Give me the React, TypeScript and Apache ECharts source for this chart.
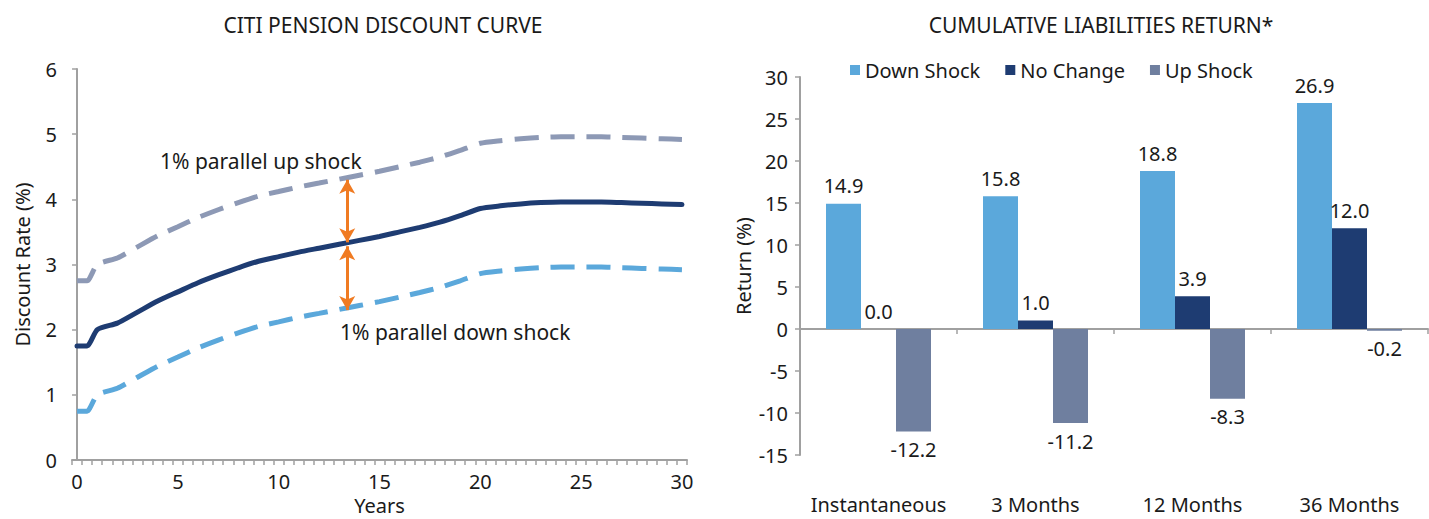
import React, { useEffect, useRef } from "react";
import * as echarts from "echarts";

// ---- Left chart data ----
const years = [0, 0.5, 1, 2, 3, 4, 5, 6, 7, 8, 9, 10, 11, 12, 13, 14, 15, 16, 17, 18, 19, 20, 21, 22, 23, 24, 25, 26, 27, 28, 29, 30];
const noChangeCurve = [1.75, 1.75, 2.0, 2.1, 2.27, 2.44, 2.58, 2.72, 2.84, 2.95, 3.05, 3.12, 3.19, 3.25, 3.31, 3.37, 3.43, 3.5, 3.57, 3.65, 3.75, 3.86, 3.9, 3.93, 3.95, 3.96, 3.96, 3.96, 3.95, 3.94, 3.93, 3.92];
const upShockCurve = [2.75, 2.75, 3.0, 3.1, 3.27, 3.44, 3.58, 3.72, 3.84, 3.95, 4.05, 4.12, 4.19, 4.25, 4.31, 4.37, 4.43, 4.5, 4.57, 4.65, 4.75, 4.86, 4.9, 4.93, 4.95, 4.96, 4.96, 4.96, 4.95, 4.94, 4.93, 4.92];
const downShockCurve = [0.75, 0.75, 1.0, 1.1, 1.27, 1.44, 1.58, 1.72, 1.84, 1.95, 2.05, 2.12, 2.19, 2.25, 2.31, 2.37, 2.43, 2.5, 2.57, 2.65, 2.75, 2.86, 2.9, 2.93, 2.95, 2.96, 2.96, 2.96, 2.95, 2.94, 2.93, 2.92];
const xTickLabels = ["0", "5", "10", "15", "20", "25", "30"];
const arrowYear = 13.4;
const arrowUp = [4.3, 3.34];
const arrowDown = [3.28, 2.3];

// ---- Right chart data ----
const periods = ["Instantaneous", "3 Months", "12 Months", "36 Months"];
const downShock = [14.9, 15.8, 18.8, 26.9];
const noChange = [0.0, 1.0, 3.9, 12.0];
const upShock = [-12.2, -11.2, -8.3, -0.2];

const FONT = "Noto Sans";
const FS = 20;
const TXT = "#1a1a1a";
const AXIS = "#a0a0a0";
const C_MAIN = "#1e3c72";
const C_UP = "#8d99b5";
const C_DOWN = "#5ba8db";
const C_UPBAR = "#6f7f9f";
const C_ARROW = "#f07b22";

export default function App() {
  const ref = useRef<HTMLDivElement>(null);
  useEffect(() => {
    const chart = echarts.init(ref.current!, null, { renderer: "svg" });
    const halfYearCats = Array.from({ length: 61 }, (_, i) => String(i / 2));
    const pairs = (ys: number[]) => years.map((x, i) => [x, ys[i]]);
    const barData = (vals: number[]) =>
      vals.map((v) => ({ value: v, label: { position: v < 0 ? "bottom" : "top" } }));
    const barLabel = {
      show: true,
      fontFamily: FONT,
      fontSize: FS,
      color: TXT,
      distance: 8,
      formatter: (p: any) => Number(p.value).toFixed(1),
    };
    const txt = { fontFamily: FONT, fontSize: FS, color: TXT };

    chart.setOption({
      animation: false,
      textStyle: { fontFamily: FONT, color: TXT },
      grid: [
        { left: 72, top: 69, width: 615, height: 391, containLabel: false, outerBoundsMode: "none" },
        { left: 800, top: 77, width: 628, height: 378, containLabel: false, outerBoundsMode: "none" },
      ],
      graphic: [
        { type: "text", x: 383, y: 25, style: { text: "CITI PENSION DISCOUNT CURVE", font: `21px "${FONT}"`, fill: TXT, textAlign: "center", textVerticalAlign: "middle" } },
        { type: "text", x: 1101, y: 25, style: { text: "CUMULATIVE LIABILITIES RETURN*", font: `21px "${FONT}"`, fill: TXT, textAlign: "center", textVerticalAlign: "middle" } },
        { type: "text", x: 160, y: 161, style: { text: "1% parallel up shock", font: `21px "${FONT}"`, fill: TXT, textAlign: "left", textVerticalAlign: "middle" } },
        { type: "text", x: 340, y: 332, style: { text: "1% parallel down shock", font: `21px "${FONT}"`, fill: TXT, textAlign: "left", textVerticalAlign: "middle" } },
      ],
      legend: {
        left: 850,
        top: 60,
        padding: 0,
        itemWidth: 10,
        itemHeight: 10,
        itemGap: 25,
        icon: "rect",
        textStyle: txt,
        data: ["Down Shock", "No Change", "Up Shock"],
      },
      xAxis: [
        {
          type: "category",
          gridIndex: 0,
          data: halfYearCats,
          boundaryGap: true,
          name: "Years",
          nameLocation: "middle",
          nameGap: 33,
          nameTextStyle: txt,
          axisLine: { lineStyle: { color: AXIS, width: 2 } },
          axisTick: { show: true, interval: 0, length: 5, lineStyle: { color: AXIS, width: 1.5 } },
          axisLabel: {
            interval: 9,
            margin: 11,
            ...txt,
            formatter: (v: string) => (xTickLabels.includes(v) ? v : ""),
          },
          splitLine: { show: false },
        },
        {
          type: "value",
          gridIndex: 0,
          min: -0.25,
          max: 30.25,
          show: false,
        },
        {
          type: "category",
          gridIndex: 1,
          data: periods,
          axisLine: { onZero: true, lineStyle: { color: AXIS, width: 2 } },
          axisTick: { show: true, length: 5, inside: false, lineStyle: { color: AXIS, width: 1.5 } },
          axisLabel: { show: false },
        },
        {
          type: "category",
          gridIndex: 1,
          data: periods,
          position: "bottom",
          axisLine: { show: false, onZero: false },
          axisTick: { show: false },
          axisLabel: { interval: 0, margin: 39, ...txt },
        },
      ],
      yAxis: [
        {
          type: "value",
          gridIndex: 0,
          min: 0,
          max: 6,
          interval: 1,
          name: "Discount Rate (%)",
          nameLocation: "middle",
          nameGap: 40,
          nameTextStyle: txt,
          axisLine: { show: true, lineStyle: { color: AXIS, width: 2 } },
          axisTick: { show: true, length: 5, lineStyle: { color: AXIS, width: 1.5 } },
          axisLabel: { margin: 15, ...txt },
          splitLine: { show: false },
        },
        {
          type: "value",
          gridIndex: 1,
          min: -15,
          max: 30,
          interval: 5,
          name: "Return (%)",
          nameLocation: "middle",
          nameGap: 47,
          nameTextStyle: txt,
          axisLine: { show: true, lineStyle: { color: AXIS, width: 2 } },
          axisTick: { show: true, length: 5, lineStyle: { color: AXIS, width: 1.5 } },
          axisLabel: { margin: 12, ...txt },
          splitLine: { show: false },
        },
      ],
      series: [
        {
          name: "Up shock curve",
          type: "line",
          xAxisIndex: 1,
          yAxisIndex: 0,
          data: pairs(upShockCurve),
          smooth: 0.2,
          showSymbol: false,
          lineStyle: { color: C_UP, width: 5, type: [24, 12] },
          z: 2,
        },
        {
          name: "Down shock curve",
          type: "line",
          xAxisIndex: 1,
          yAxisIndex: 0,
          data: pairs(downShockCurve),
          smooth: 0.2,
          showSymbol: false,
          lineStyle: { color: C_DOWN, width: 5, type: [24, 12] },
          z: 2,
        },
        {
          name: "Base curve",
          type: "line",
          xAxisIndex: 1,
          yAxisIndex: 0,
          data: pairs(noChangeCurve),
          smooth: 0.2,
          showSymbol: false,
          lineStyle: { color: C_MAIN, width: 5, cap: "round" },
          z: 3,
          markLine: {
            silent: true,
            symbol: ["arrow", "arrow"],
            symbolSize: [12, 14],
            label: { show: false },
            lineStyle: { color: C_ARROW, width: 3, type: "solid" },
            data: [
              [{ coord: [arrowYear, arrowUp[0]] }, { coord: [arrowYear, arrowUp[1]] }],
              [{ coord: [arrowYear, arrowDown[0]] }, { coord: [arrowYear, arrowDown[1]] }],
            ],
            z: 5,
          },
        },
        {
          name: "Down Shock",
          type: "bar",
          xAxisIndex: 2,
          yAxisIndex: 1,
          data: barData(downShock),
          barWidth: 35,
          barGap: "0%",
          itemStyle: { color: C_DOWN },
          label: barLabel,
        },
        {
          name: "No Change",
          type: "bar",
          xAxisIndex: 2,
          yAxisIndex: 1,
          data: barData(noChange),
          barWidth: 35,
          barGap: "0%",
          itemStyle: { color: C_MAIN },
          label: barLabel,
        },
        {
          name: "Up Shock",
          type: "bar",
          xAxisIndex: 2,
          yAxisIndex: 1,
          data: barData(upShock),
          barWidth: 35,
          barGap: "0%",
          itemStyle: { color: C_UPBAR },
          label: barLabel,
        },
      ],
    });
    return () => chart.dispose();
  }, []);

  return (
    <div style={{ position: "absolute", left: 0, top: 0, width: 1429, height: 519, background: "#fff" }}>
      <div ref={ref} style={{ width: 1429, height: 519 }} />
    </div>
  );
}
